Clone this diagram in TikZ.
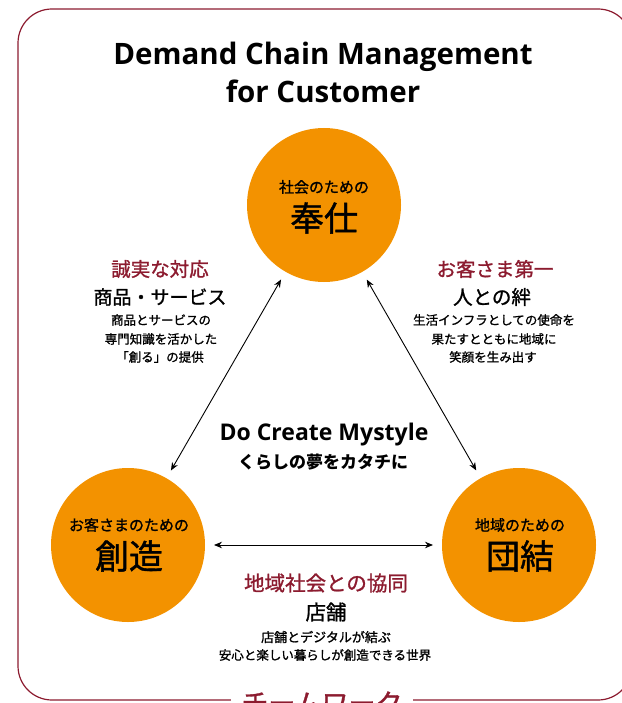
\documentclass[tikz,border=0pt]{standalone}
\usepackage{fontspec}
\setmainfont{Open Sans}
\newfontfamily\jp{Noto Sans CJK JP}
\newfontfamily\jpm[FakeBold=1.2]{Noto Sans CJK JP}
\usetikzlibrary{arrows.meta}
\definecolor{dcmorange}{RGB}{243,146,0}
\definecolor{dcmred}{RGB}{140,27,47}
\newcommand{\fsz}[1]{\fontsize{#1}{#1}\selectfont}

\begin{document}
\begin{tikzpicture}[x=1pt,y=-1pt,
  ball/.style={circle,fill=dcmorange,minimum size=154pt,inner sep=0pt,outer sep=0pt},
  txt/.style={inner sep=0pt,font=\jp},
  link/.style={{Stealth[length=8pt,width=6.5pt]}-{Stealth[length=8pt,width=6.5pt]},line width=0.9pt,shorten <=9pt,shorten >=9pt}]
\useasboundingbox (0,0) rectangle (621,703);
% frame
\draw[dcmred,line width=1.2pt,rounded corners=34pt] (18,9) rectangle (632,700);
\node[txt,fill=white,inner xsep=10pt,text=dcmred,font=\jpm\fsz{27}] (team) at (322,703) {チームワーク};
% title
\node[inner sep=0pt,font=\bfseries\fsz{29.5}] (title1) at (323,57) {Demand Chain Management};
\node[inner sep=0pt,font=\bfseries\fsz{29.5}] (title2) at (323,91) {for Customer};
% three circles
\node[ball] (hoshi) at (324,205) {};
\node[ball] (sozo) at (128,545) {};
\node[ball] (danketsu) at (519,545) {};
\node[txt,font=\jpm\fsz{15}] (hoshi-a) at (324,187) {社会のための};
\node[txt,font=\jpm\fsz{34}] (hoshi-b) at (324,218) {奉仕};
\node[txt,font=\jpm\fsz{15}] (sozo-a) at (129,525) {お客さまのための};
\node[txt,font=\jpm\fsz{34}] (sozo-b) at (129,556) {創造};
\node[txt,font=\jpm\fsz{15}] (danketsu-a) at (520,525) {地域のための};
\node[txt,font=\jpm\fsz{34}] (danketsu-b) at (520,556) {団結};
% arrows
\draw[link] (sozo) -- (hoshi);
\draw[link] (hoshi) -- (danketsu);
\draw[link] (sozo) -- (danketsu);
% left
\node[txt,text=dcmred,font=\jpm\fsz{19.5}] (l1) at (160,269) {誠実な対応};
\node[txt,font=\jpm\fsz{19}] (l2) at (160,297) {商品・サービス};
\node[txt,font=\jpm\fsz{12.5}] (l3) at (161,320) {商品とサービスの};
\node[txt,font=\jpm\fsz{12.5}] (l4) at (161,339) {専門知識を活かした};
\node[txt,font=\jpm\fsz{12.5}] (l5) at (160,357) {「創る」の提供};
% right
\node[txt,text=dcmred,font=\jpm\fsz{19.5}] (r1) at (495,269) {お客さま第一};
\node[txt,font=\jpm\fsz{19.5}] (r2) at (492,297) {人との絆};
\node[txt,font=\jpm\fsz{12.5}] (r3) at (494,320) {生活インフラとしての使命を};
\node[txt,font=\jpm\fsz{12.5}] (r4) at (494,339) {果たすとともに地域に};
\node[txt,font=\jpm\fsz{12.5}] (r5) at (493,357) {笑顔を生み出す};
% center
\node[inner sep=0pt,font=\bfseries\fsz{23}] (c1) at (324,435) {Do Create Mystyle};
\node[txt,font=\jp\bfseries\fsz{17}] (c2) at (323,462) {くらしの夢をカタチに};
% bottom
\node[txt,text=dcmred,font=\jpm\fsz{20.5}] (b1) at (326,583) {地域社会との協同};
\node[txt,font=\jpm\fsz{20.5}] (b2) at (326,612) {店舗};
\node[txt,font=\jpm\fsz{13}] (b3) at (326,637) {店舗とデジタルが結ぶ};
\node[txt,font=\jpm\fsz{12.5}] (b4) at (325,655) {安心と楽しい暮らしが創造できる世界};
\end{tikzpicture}
\end{document}
